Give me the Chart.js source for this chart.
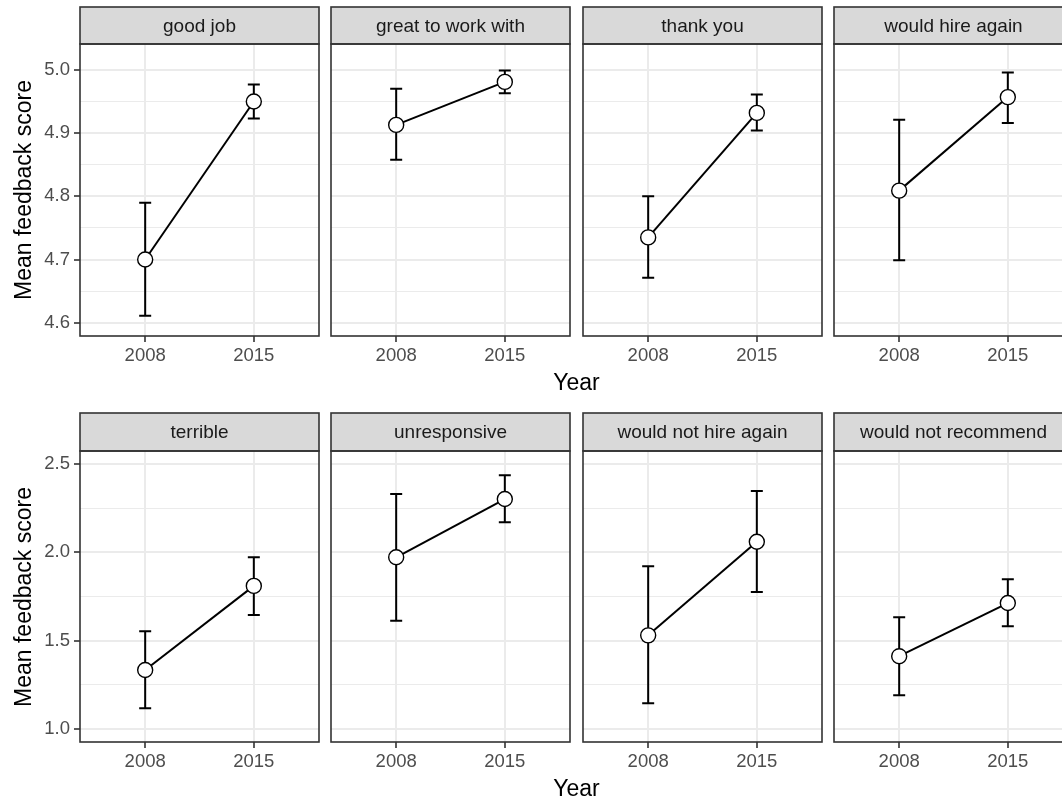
<!DOCTYPE html>
<html>
<head>
<meta charset="utf-8">
<script src="https://cdn.jsdelivr.net/npm/chart.js@4.4.1/dist/chart.umd.min.js"></script>
<style>
  html, body { margin: 0; padding: 0; background: #fff; overflow: hidden; }
  #wrap { position: relative; width: 1062px; height: 800px; overflow: hidden; }
  canvas { position: absolute; }
  .lab { position: absolute; font-family: "Liberation Sans", Arial, sans-serif; color: #000; white-space: nowrap; }
</style>
</head>
<body>
<div id="wrap"></div>
<script>
const years = ["2008", "2015"];

const facetsTop = ["good job", "great to work with", "thank you", "would hire again"];
const meanTop = [[4.700, 4.950], [4.913, 4.981], [4.735, 4.932], [4.809, 4.957]];
const lowTop  = [[4.611, 4.923], [4.858, 4.963], [4.671, 4.904], [4.699, 4.916]];
const highTop = [[4.790, 4.977], [4.970, 4.999], [4.800, 4.961], [4.921, 4.996]];
const yTicksTop = [4.6, 4.7, 4.8, 4.9, 5.0];
const yMinorTop = [4.65, 4.75, 4.85, 4.95];

const facetsBottom = ["terrible", "unresponsive", "would not hire again", "would not recommend"];
const meanBottom = [[1.334, 1.810], [1.972, 2.302], [1.530, 2.060], [1.412, 1.713]];
const lowBottom  = [[1.117, 1.645], [1.613, 2.170], [1.146, 1.776], [1.191, 1.581]];
const highBottom = [[1.553, 1.972], [2.330, 2.436], [1.921, 2.347], [1.632, 1.847]];
const yTicksBottom = [1.0, 1.5, 2.0, 2.5];
const yMinorBottom = [1.25, 1.75, 2.25];

// layout (pixels)
const colLeft = [80, 331, 583, 834];
const panelW = 239;
const rowsGeom = [
  { stripTop: 7, panelTop: 44, panelBottom: 336, yMin: 4.579, yMax: 5.041 },
  { stripTop: 413, panelTop: 451, panelBottom: 742, yMin: 0.926, yMax: 2.574 }
];
const FONT = '"Liberation Sans", Arial, sans-serif';

const errorBars = {
  id: 'errorBars',
  beforeDatasetsDraw(chart, args, opts) {
    const { ctx, scales: { x, y } } = chart;
    ctx.save();
    ctx.strokeStyle = '#000';
    ctx.lineWidth = 2;
    opts.low.forEach((lo, i) => {
      const px = x.getPixelForValue(i + 1);
      const y0 = y.getPixelForValue(lo);
      const y1 = y.getPixelForValue(opts.high[i]);
      ctx.beginPath();
      ctx.moveTo(px, y0); ctx.lineTo(px, y1);
      ctx.moveTo(px - 6, y0); ctx.lineTo(px + 6, y0);
      ctx.moveTo(px - 6, y1); ctx.lineTo(px + 6, y1);
      ctx.stroke();
    });
    ctx.restore();
  }
};

const facetFrame = {
  id: 'facetFrame',
  afterDraw(chart, args, opts) {
    const { ctx, chartArea: a } = chart;
    ctx.save();
    ctx.lineWidth = 1.6;
    ctx.strokeStyle = '#333333';
    ctx.fillStyle = '#D9D9D9';
    ctx.fillRect(a.left, opts.top, a.right - a.left, a.top - opts.top);
    ctx.strokeRect(a.left, opts.top, a.right - a.left, a.top - opts.top);
    ctx.strokeRect(a.left, a.top, a.right - a.left, a.bottom - a.top);
    ctx.fillStyle = '#1A1A1A';
    ctx.font = '19px ' + FONT;
    ctx.textAlign = 'center';
    ctx.textBaseline = 'middle';
    ctx.fillText(opts.label, (a.left + a.right) / 2, (opts.top + a.top) / 2 + 1);
    ctx.restore();
  }
};

const wrap = document.getElementById('wrap');

function isMajor(v, majors) {
  return majors.some(m => Math.abs(m - v) < 1e-6);
}

function makePanel(row, col, label, means, lows, highs, majors, minors) {
  const g = rowsGeom[row];
  const L = col === 0 ? 80 : 2;
  const R = 2;
  const B = 44;
  const canvasTop = g.stripTop - 2;
  const W = L + panelW + R;
  const H = g.panelBottom - canvasTop + B;
  const cv = document.createElement('canvas');
  cv.width = W; cv.height = H;
  cv.style.left = (colLeft[col] - L) + 'px';
  cv.style.top = canvasTop + 'px';
  cv.style.width = W + 'px'; cv.style.height = H + 'px';
  wrap.appendChild(cv);

  new Chart(cv, {
    type: 'line',
    data: {
      datasets: [{
        data: means.map((m, i) => ({ x: i + 1, y: m })),
        borderColor: '#000',
        borderWidth: 2,
        pointRadius: 7.5,
        pointBorderWidth: 1.4,
        pointBackgroundColor: '#fff',
        pointBorderColor: '#000',
        clip: false
      }]
    },
    options: {
      responsive: false,
      animation: false,
      devicePixelRatio: 1,
      layout: { autoPadding: false, padding: { top: g.panelTop - canvasTop, left: 0, right: R, bottom: 0 } },
      plugins: {
        legend: { display: false },
        tooltip: { enabled: false },
        errorBars: { low: lows, high: highs },
        facetFrame: { label: label, top: 2 }
      },
      scales: {
        x: {
          type: 'linear',
          min: 0.4,
          max: 2.6,
          afterBuildTicks: s => { s.ticks = years.map((_, i) => ({ value: i + 1 })); },
          afterFit: s => { s.height = B; },
          border: { display: false },
          grid: { color: '#EBEBEB', lineWidth: 2, tickColor: '#333333', tickWidth: 1.6, tickLength: 6 },
          ticks: {
            callback: v => years[v - 1],
            font: { family: FONT, size: 18.5 },
            color: '#4D4D4D',
            padding: 3,
            maxRotation: 0
          }
        },
        y: {
          min: g.yMin,
          max: g.yMax,
          afterBuildTicks: s => {
            s.ticks = majors.concat(minors).sort((a, b) => a - b).map(v => ({ value: v }));
          },
          afterFit: s => { s.width = L; },
          border: { display: false },
          grid: {
            color: '#EBEBEB',
            lineWidth: c => isMajor(c.tick.value, majors) ? 2 : 1,
            drawTicks: col === 0,
            tickColor: c => isMajor(c.tick.value, majors) ? '#333333' : 'rgba(0,0,0,0)',
            tickWidth: 1.6,
            tickLength: 6
          },
          ticks: {
            display: col === 0,
            callback: v => isMajor(v, majors) ? v.toFixed(1) : '',
            font: { family: FONT, size: 18.5 },
            color: '#4D4D4D',
            padding: 4
          }
        }
      }
    },
    plugins: [errorBars, facetFrame]
  });
}

facetsTop.forEach((f, i) => makePanel(0, i, f, meanTop[i], lowTop[i], highTop[i], yTicksTop, yMinorTop));
facetsBottom.forEach((f, i) => makePanel(1, i, f, meanBottom[i], lowBottom[i], highBottom[i], yTicksBottom, yMinorBottom));

// axis titles
function addLabel(text, cx, cy, rotate) {
  const d = document.createElement('div');
  d.className = 'lab';
  d.textContent = text;
  d.style.fontSize = '23px';
  d.style.left = cx + 'px';
  d.style.top = cy + 'px';
  d.style.transform = 'translate(-50%, -50%)' + (rotate ? ' rotate(-90deg)' : '');
  wrap.appendChild(d);
}
addLabel('Year', 576.5, 382, false);
addLabel('Year', 576.5, 788, false);
addLabel('Mean feedback score', 22.5, 190, true);
addLabel('Mean feedback score', 22.5, 596.5, true);
</script>
</body>
</html>
